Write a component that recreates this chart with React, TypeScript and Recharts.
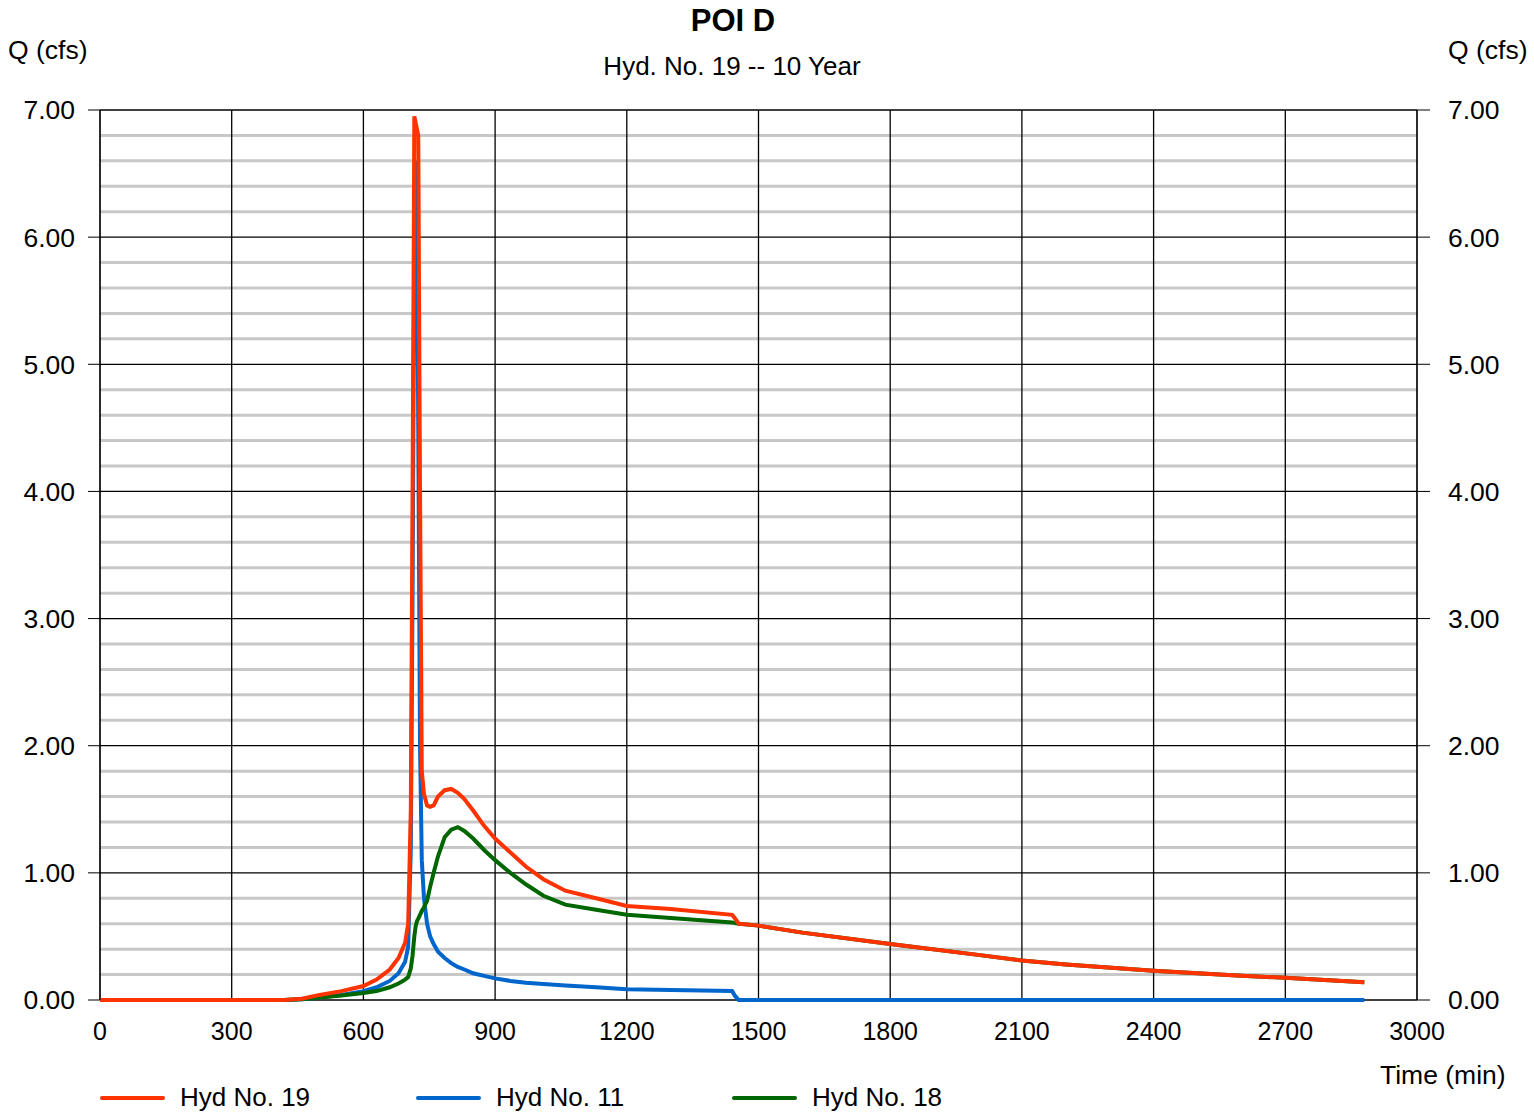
import { LineChart, Line, XAxis, YAxis, CartesianGrid } from "recharts"

const times = [0, 420, 460, 500, 550, 600, 630, 660, 680, 695, 702, 708, 712, 716, 719, 722, 725, 729, 733, 738, 745, 752, 760, 770, 785, 800, 815, 830, 850, 875, 900, 935, 970, 1010, 1060, 1130, 1200, 1300, 1440, 1447, 1455, 1500, 1600, 1800, 2000, 2100, 2200, 2400, 2600, 2700, 2880]

const hyd19 = [0, 0, 0.01, 0.04, 0.07, 0.11, 0.16, 0.24, 0.33, 0.45, 0.6, 1.5, 4.0, 6.95, 6.9, 6.85, 6.8, 4.0, 1.8, 1.62, 1.53, 1.52, 1.53, 1.6, 1.65, 1.66, 1.63, 1.58, 1.49, 1.37, 1.27, 1.16, 1.05, 0.95, 0.86, 0.8, 0.74, 0.715, 0.67, 0.64, 0.6, 0.585, 0.53, 0.44, 0.355, 0.31, 0.28, 0.23, 0.19, 0.175, 0.14]

const hyd11 = [0, 0, 0.005, 0.02, 0.04, 0.07, 0.1, 0.15, 0.21, 0.3, 0.42, 1.2, 3.2, 6.0, 6.6, 6.2, 4.5, 2.0, 1.1, 0.8, 0.6, 0.5, 0.44, 0.38, 0.33, 0.29, 0.26, 0.24, 0.21, 0.19, 0.17, 0.15, 0.135, 0.125, 0.115, 0.1, 0.085, 0.078, 0.07, 0.03, 0, 0, 0, 0, 0, 0, 0, 0, 0, 0, 0]

const hyd18 = [0, 0, 0.005, 0.02, 0.035, 0.055, 0.07, 0.1, 0.13, 0.16, 0.18, 0.25, 0.35, 0.5, 0.58, 0.62, 0.64, 0.67, 0.7, 0.73, 0.78, 0.89, 1.0, 1.13, 1.28, 1.34, 1.36, 1.33, 1.27, 1.18, 1.1, 1.0, 0.91, 0.82, 0.75, 0.71, 0.67, 0.645, 0.61, 0.605, 0.6, 0.585, 0.53, 0.44, 0.355, 0.31, 0.28, 0.23, 0.19, 0.175, 0.14]

const xTicks = [0, 300, 600, 900, 1200, 1500, 1800, 2100, 2400, 2700, 3000]
const yTicks = [0, 1, 2, 3, 4, 5, 6, 7]
const yMinor = [0.2, 0.4, 0.6, 0.8, 1.2, 1.4, 1.6, 1.8, 2.2, 2.4, 2.6, 2.8, 3.2, 3.4, 3.6, 3.8, 4.2, 4.4, 4.6, 4.8, 5.2, 5.4, 5.6, 5.8, 6.2, 6.4, 6.6, 6.8]

// hyd19 sits on the right axis (same scale) so that axis gets its ticks
const series = [
    { key: "hyd11", name: "Hyd No. 11", color: "#0066cc", axis: 0 as number | string },
    { key: "hyd18", name: "Hyd No. 18", color: "#006600", axis: 0 as number | string },
    { key: "hyd19", name: "Hyd No. 19", color: "#ff3300", axis: "right" as number | string },
]
const legendOrder = ["hyd19", "hyd11", "hyd18"]

const data = times.map((t, i) => ({ t, hyd19: hyd19[i], hyd11: hyd11[i], hyd18: hyd18[i] }))

const font = "'Liberation Sans', Arial, sans-serif"
const xTickStyle = { fill: "#000", fontSize: 25, fontFamily: font }
const yTickStyle = { fill: "#000", fontSize: 26.5, fontFamily: font }

export default function App() {
    return (
        <div style={{ position: "absolute", left: 0, top: 0, width: 1534, height: 1112, background: "#fff", fontFamily: font }}>
            <div style={{ position: "absolute", left: 0, width: 1466, top: 3, textAlign: "center", fontSize: 31, fontWeight: "bold" }}>POI D</div>
            <div style={{ position: "absolute", left: 0, width: 1464, top: 51, textAlign: "center", fontSize: 26 }}>Hyd. No. 19 -- 10 Year</div>
            <div style={{ position: "absolute", left: 8, top: 35, fontSize: 26.5 }}>Q (cfs)</div>
            <div style={{ position: "absolute", left: 1448, top: 35, fontSize: 26.5 }}>Q (cfs)</div>
            <div style={{ position: "absolute", left: 1380, top: 1060, fontSize: 26.5 }}>Time (min)</div>

            <LineChart width={1534} height={1112} data={data} margin={{ top: 110, right: 0, bottom: 62, left: 0 }}>
                <CartesianGrid horizontalValues={yMinor} vertical={false} stroke="#c8c8c8" strokeWidth={3} />
                <CartesianGrid horizontalValues={yTicks} verticalValues={xTicks} stroke="#000" strokeWidth={1.3} />
                <XAxis
                    dataKey="t"
                    type="number"
                    domain={[0, 3000]}
                    ticks={xTicks}
                    tick={xTickStyle}
                    tickLine={false}
                    axisLine={false}
                    tickSize={0}
                    tickMargin={22}
                    height={50}
                    interval={0}
                />
                <YAxis
                    yAxisId={0}
                    domain={[0, 7]}
                    ticks={yTicks}
                    tickFormatter={(v: number) => v.toFixed(2)}
                    tick={yTickStyle}
                    tickSize={12}
                    tickMargin={13}
                    tickLine={{ stroke: "#000" }}
                    axisLine={{ stroke: "#000" }}
                    width={100}
                    interval={0}
                />
                <YAxis
                    yAxisId="right"
                    orientation="right"
                    domain={[0, 7]}
                    ticks={yTicks}
                    tickFormatter={(v: number) => v.toFixed(2)}
                    tick={yTickStyle}
                    tickSize={13}
                    tickMargin={18}
                    tickLine={{ stroke: "#000" }}
                    axisLine={{ stroke: "#000" }}
                    width={117}
                    interval={0}
                />
                {series.map((s) => (
                    <Line
                        key={s.key}
                        yAxisId={s.axis}
                        type="linear"
                        dataKey={s.key}
                        name={s.name}
                        stroke={s.color}
                        strokeWidth={4}
                        dot={false}
                        isAnimationActive={false}
                    />
                ))}
            </LineChart>

            {legendOrder.map((k, i) => {
                const s = series.find((x) => x.key === k)!
                const left = 100 + i * 316
                return (
                    <div key={k} style={{ position: "absolute", left, top: 1082, display: "flex", alignItems: "center", fontSize: 26 }}>
                        <div style={{ width: 65, height: 4, background: s.color, borderRadius: 2, marginRight: 15 }} />
                        <span>{s.name}</span>
                    </div>
                )
            })}
        </div>
    )
}
